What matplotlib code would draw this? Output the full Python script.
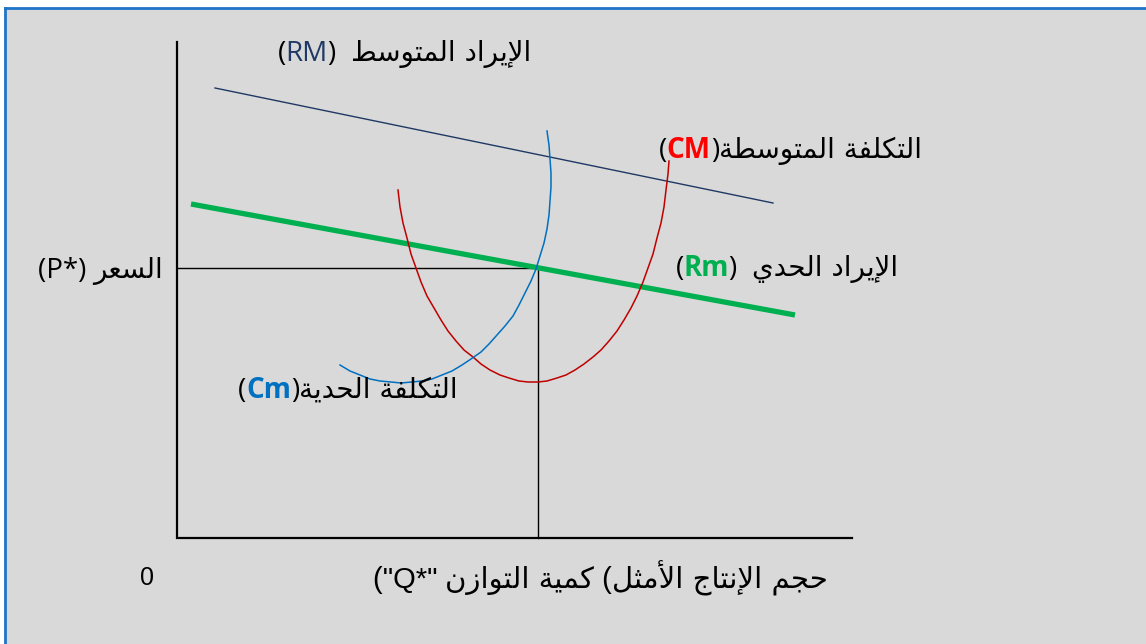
"""
Profit maximisation diagram (Arabic labels)
===========================================
Recreates the RM / Rm / CM / Cm diagram with the equilibrium P*, Q*.
"""

import matplotlib
matplotlib.use('Agg')
import matplotlib.pyplot as plt
from matplotlib.patches import Rectangle
from matplotlib.lines import Line2D
from matplotlib.offsetbox import TextArea, HPacker, AnnotationBbox

# ---------------------------------------------------------------
# Data (chart units: quantity to the right, price upwards)
# ---------------------------------------------------------------
q_axis_max = 675
p_axis_max = 496
q_star = 361
p_star = 270

# average revenue (RM) and marginal revenue (Rm), straight lines
rm_avg_q = [38, 596]
rm_avg_p = [450, 335]
rm_marg_q = [14, 618]
rm_marg_p = [334, 223]

# average cost (CM), U shaped
cm_avg_q = [221, 223, 226, 230, 234, 239, 244, 250, 257, 264,
            271, 279, 287, 296, 304, 313, 323, 332, 342, 351,
            361, 370, 380, 389, 398, 407, 416, 424, 432, 440,
            447, 454, 460, 466, 471, 476, 480, 484, 487, 489,
            491, 492]
cm_avg_p = [348, 331, 315, 300, 284, 270, 256, 242, 230, 218,
            207, 197, 188, 181, 174, 168, 163, 160, 157, 156,
            156, 157, 160, 163, 168, 174, 181, 188, 197, 207,
            218, 230, 242, 256, 270, 284, 300, 315, 331, 348,
            364, 377]

# marginal cost (Cm)
cm_marg_q = [163, 173, 183, 193, 203, 214, 224, 235, 245, 255,
             265, 275, 285, 294, 304, 312, 320, 328, 336, 342,
             348, 354, 359, 363, 367, 370, 372, 373, 374, 374,
             373, 372, 370]
cm_marg_p = [173, 167, 163, 159, 157, 156, 155, 156, 157, 159,
             163, 167, 173, 179, 186, 194, 203, 212, 222, 233,
             245, 257, 269, 282, 295, 309, 323, 337, 351, 365,
             379, 393, 407]

# labels
lbl_rm_avg = 'الإيراد المتوسط'
lbl_cm_avg = 'التكلفة المتوسطة'
lbl_rm_marg = 'الإيراد الحدي'
lbl_cm_marg = 'التكلفة الحدية'
lbl_price = 'السعر'
lbl_qty_a = 'حجم الإنتاج الأمثل'
lbl_qty_b = 'كمية التوازن'

NAVY = '#1f3864'
GREEN = '#00b050'
RED = '#c00000'
BLUE = '#0070c0'

# ---------------------------------------------------------------
# Minimal Arabic shaping (matplotlib has no text shaping)
# ---------------------------------------------------------------
DUAL = {'ب': 0xFE8F, 'ت': 0xFE95, 'ث': 0xFE99, 'ج': 0xFE9D, 'ح': 0xFEA1,
        'خ': 0xFEA5, 'س': 0xFEB1, 'ش': 0xFEB5, 'ص': 0xFEB9, 'ض': 0xFEBD,
        'ط': 0xFEC1, 'ظ': 0xFEC5, 'ع': 0xFEC9, 'غ': 0xFECD, 'ف': 0xFED1,
        'ق': 0xFED5, 'ك': 0xFED9, 'ل': 0xFEDD, 'م': 0xFEE1, 'ن': 0xFEE5,
        'ه': 0xFEE9, 'ي': 0xFEF1}
RIGHT = {'ا': 0xFE8D, 'أ': 0xFE83, 'إ': 0xFE87, 'آ': 0xFE81, 'ة': 0xFE93,
         'د': 0xFEA9, 'ذ': 0xFEAB, 'ر': 0xFEAD, 'ز': 0xFEAF, 'و': 0xFEED,
         'ى': 0xFEEF}
LAMALEF = {'ا': 0xFEFB, 'أ': 0xFEF7, 'إ': 0xFEF9, 'آ': 0xFEF5}


def shape(text):
    out, link, i = [], False, 0
    while i < len(text):
        c = text[i]
        nxt = text[i + 1] if i + 1 < len(text) else ''
        if c == 'ل' and nxt in LAMALEF:
            out.append(chr(LAMALEF[nxt] + link))
            link = False
            i += 2
            continue
        if c in DUAL:
            fwd = nxt in DUAL or nxt in RIGHT
            out.append(chr(DUAL[c] + [0, 2, 1, 3][link * 2 + fwd]))
            link = fwd
        elif c in RIGHT:
            out.append(chr(RIGHT[c] + link))
            link = False
        else:
            out.append(c)
            link = False
        i += 1
    return ''.join(out)


def ar(text):
    # visual (left-to-right) order of a pure Arabic run
    return shape(text)[::-1]


AR_FONT = ['DejaVu Sans']
LAT_FONT = ['Open Sans', 'DejaVu Sans']
ARIAL = ['Liberation Sans', 'DejaVu Sans']


def label(ax, parts, xy, size=20, align=(1, 0.5)):
    """parts: list of (text, color, weight, font) in visual order."""
    areas = [TextArea(t, textprops=dict(color=c, fontweight=w, fontsize=size,
                                        family=f))
             for t, c, w, f in parts]
    box = HPacker(children=areas, align='baseline', pad=0, sep=0)
    ab = AnnotationBbox(box, xy, xycoords='data', box_alignment=align,
                        frameon=False, pad=0)
    ax.add_artist(ab)


# ---------------------------------------------------------------
# Figure
# ---------------------------------------------------------------
W, H = 1146, 644
fig = plt.figure(figsize=(W / 100, H / 100), dpi=100, facecolor='white')

# grey panel with blue top / left border
fig.patches.append(Rectangle((5 / W, 0), 1 - 5 / W, 1 - 8 / H,
                             transform=fig.transFigure,
                             facecolor='#d9d9d9', edgecolor='none', zorder=-5))
fig.lines.append(Line2D([5 / W, 1], [1 - 8 / H, 1 - 8 / H],
                        transform=fig.transFigure, color='#1f74c8', lw=2,
                        zorder=-4))
fig.lines.append(Line2D([5 / W, 5 / W], [0, 1 - 8 / H],
                        transform=fig.transFigure, color='#1f74c8', lw=2,
                        zorder=-4))

ax = fig.add_axes([0, 0, 1, 1])
ax.patch.set_visible(False)
ax.set_xlim(-177, W - 177)
ax.set_ylim(-(H - 538), 538)
ax.axis('off')

# axes of the diagram
ax.plot([0, 0, q_axis_max], [p_axis_max, 0, 0], color='black', lw=1.6,
        solid_joinstyle='miter')
# equilibrium guides
ax.plot([0, q_star, q_star], [p_star, p_star, 0], color='black', lw=1.0)

# curves
ax.plot(rm_avg_q, rm_avg_p, color=NAVY, lw=1.0)
ax.plot(rm_marg_q, rm_marg_p, color=GREEN, lw=3.8, solid_capstyle='butt')
ax.plot(cm_avg_q, cm_avg_p, color=RED, lw=1.1)
ax.plot(cm_marg_q, cm_marg_p, color=BLUE, lw=1.1)

# labels
label(ax, [('(', 'black', 'normal', LAT_FONT),
           ('RM', NAVY, 'normal', LAT_FONT),
           (')  ', 'black', 'normal', LAT_FONT),
           (ar(lbl_rm_avg), 'black', 'normal', AR_FONT)], (354, 485))
label(ax, [('(', 'black', 'normal', LAT_FONT),
           ('CM', 'red', 'bold', LAT_FONT),
           (')', 'black', 'normal', LAT_FONT),
           (ar(lbl_cm_avg), 'black', 'normal', AR_FONT)], (745, 388))
label(ax, [('(', 'black', 'normal', LAT_FONT),
           ('Rm', GREEN, 'bold', LAT_FONT),
           (')  ', 'black', 'normal', LAT_FONT),
           (ar(lbl_rm_marg), 'black', 'normal', AR_FONT)], (721, 270))
label(ax, [('(P*) ', 'black', 'normal', LAT_FONT),
           (ar(lbl_price), 'black', 'normal', AR_FONT)], (-14, 268))
label(ax, [('(', 'black', 'normal', LAT_FONT),
           ('Cm', BLUE, 'bold', LAT_FONT),
           (')', 'black', 'normal', LAT_FONT),
           (ar(lbl_cm_marg), 'black', 'normal', AR_FONT)], (281, 148))
label(ax, [('("Q*" ', 'black', 'normal', ARIAL),
           (ar(lbl_qty_b), 'black', 'normal', AR_FONT),
           (' (', 'black', 'normal', ARIAL),
           (ar(lbl_qty_a), 'black', 'normal', AR_FONT)], (651, -40), size=21)
ax.text(-30, -40, '0', ha='center', va='center', fontsize=18, family=ARIAL)

plt.savefig('out.png', dpi=100, facecolor=fig.get_facecolor())
